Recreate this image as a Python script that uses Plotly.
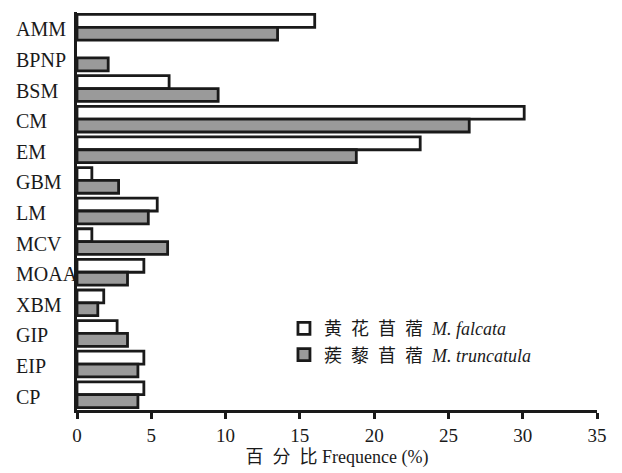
import plotly.graph_objects as go

categories = ["AMM", "BPNP", "BSM", "CM", "EM", "GBM", "LM", "MCV", "MOAA", "XBM", "GIP", "EIP", "CP"]
falcata = [16.0, 0, 6.2, 30.1, 23.1, 1.0, 5.4, 1.0, 4.5, 1.8, 2.7, 4.5, 4.5]
truncatula = [13.5, 2.1, 9.5, 26.4, 18.8, 2.8, 4.8, 6.1, 3.4, 1.4, 3.4, 4.1, 4.1]
x_ticks = [0, 5, 10, 15, 20, 25, 30, 35]
name_falcata = "黄\u2002花\u2002苜\u2002蓿\u2002<i>M. falcata</i>"
name_truncatula = "蒺\u2002藜\u2002苜\u2002蓿\u2002<i>M. truncatula</i>"
x_title = "百\u2002分\u2002比 Frequence (%)"

SERIF = "Liberation Serif, Times New Roman, Noto Sans CJK SC, serif"
INK = "#1a1a1a"
LW = 2.8

fig = go.Figure()
fig.add_trace(go.Bar(y=categories, x=falcata, orientation="h", name=name_falcata,
                     marker=dict(color="white",
                                 line=dict(color=INK, width=[LW if v > 0 else 0 for v in falcata]))))
fig.add_trace(go.Bar(y=categories, x=truncatula, orientation="h", name=name_truncatula,
                     marker=dict(color="#9a9a9a",
                                 line=dict(color=INK, width=[LW if v > 0 else 0 for v in truncatula]))))

for c in categories:
    fig.add_annotation(x=-0.121, xref="paper", y=c, yref="y", text=c, showarrow=False,
                       xanchor="left", yanchor="middle", yshift=-2,
                       font=dict(family=SERIF, size=20, color=INK))

fig.update_layout(
    width=614, height=465,
    margin=dict(l=69, r=25, t=4, b=63, autoexpand=False),
    paper_bgcolor="white", plot_bgcolor="white",
    barmode="group", bargap=0.16, bargroupgap=0,
    showlegend=True,
    legend=dict(x=0.398, y=0.251, xanchor="left", yanchor="top",
                font=dict(family=SERIF, size=18, color=INK),
                bgcolor="rgba(0,0,0,0)", tracegroupgap=0, itemwidth=30),
    xaxis=dict(range=[0, 35], tickvals=x_ticks, ticks="outside", ticklen=6, tickwidth=2.5,
               tickcolor=INK, showline=True, linecolor=INK, linewidth=3,
               showgrid=False, zeroline=False,
               tickfont=dict(family=SERIF, size=19, color=INK),
               title=dict(text=x_title, font=dict(family=SERIF, size=18, color=INK), standoff=6)),
    yaxis=dict(categoryorder="array", categoryarray=categories, autorange="reversed",
               showticklabels=False, ticks="", showline=True, linecolor=INK,
               linewidth=3, showgrid=False, zeroline=False),
)

fig.write_html("out.html")
